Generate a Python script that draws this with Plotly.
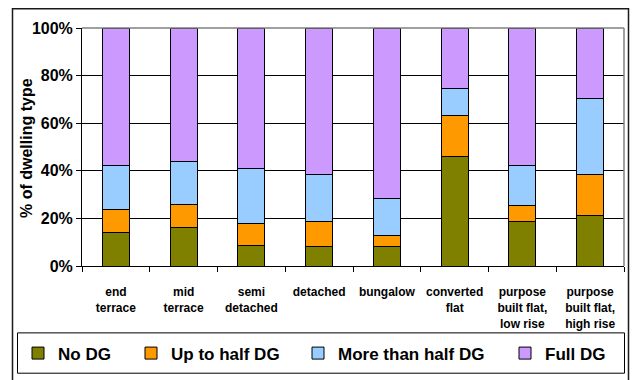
import plotly.graph_objects as go

# Dwelling types (x categories)
categories = [
    "end<br>terrace",
    "mid<br>terrace",
    "semi<br>detached",
    "detached",
    "bungalow",
    "converted<br>flat",
    "purpose<br>built flat,<br>low rise",
    "purpose<br>built flat,<br>high rise",
]

# Share of each dwelling type by extent of double glazing (%)
no_dg = [14.2, 16.1, 8.6, 8.4, 8.4, 45.9, 18.7, 21.2]
up_to_half_dg = [9.7, 9.9, 9.1, 10.4, 4.5, 17.5, 6.8, 17.2]
more_than_half_dg = [18.5, 17.8, 23.1, 19.5, 15.3, 11.2, 16.9, 32.1]
full_dg = [57.6, 56.2, 59.2, 61.7, 71.8, 25.4, 57.6, 29.5]

series_names = ["No DG", "Up to half DG", "More than half DG", "Full DG"]
series_values = [no_dg, up_to_half_dg, more_than_half_dg, full_dg]
series_colors = ["#808000", "#FF9900", "#99CCFF", "#CC99FF"]

y_tick_values = [0, 20, 40, 60, 80, 100]
y_tick_labels = ["0%", "20%", "40%", "60%", "80%", "100%"]

FONT = "Liberation Sans, Arial, sans-serif"

W, H = 632, 380
L, R, T, B = 82, 8, 28, 110
PW, PH = W - L - R, H - T - B


def px_x(px):
    return (px - L) / PW


def px_y(py):
    return (H - B - py) / PH


legend_ids = ["legend", "legend2", "legend3", "legend4"]
legend_text_x = [58, 171, 338, 545]

fig = go.Figure()
for name, vals, color, lid in zip(series_names, series_values, series_colors, legend_ids):
    fig.add_trace(
        go.Bar(
            x=categories,
            y=vals,
            name=name,
            marker=dict(color=color, line=dict(color="#000000", width=1)),
            width=0.4,
            legend=lid,
        )
    )

legend_layouts = {}
for lid, tx in zip(legend_ids, legend_text_x):
    legend_layouts[lid] = dict(
        x=px_x(tx - 40),
        xanchor="left",
        y=px_y(359),
        yanchor="middle",
        orientation="h",
        bgcolor="rgba(0,0,0,0)",
        borderwidth=0,
        font=dict(family=FONT, size=17, color="#000000", weight="bold"),
    )

fig.update_layout(
    width=W,
    height=H,
    margin=dict(l=L, r=R, t=T, b=B),
    barmode="stack",
    paper_bgcolor="#FFFFFF",
    plot_bgcolor="#FFFFFF",
    font=dict(family=FONT, color="#000000"),
    showlegend=True,
    **legend_layouts,
)

fig.update_xaxes(
    type="category",
    showline=True,
    linecolor="#000000",
    linewidth=1,
    ticks="outside",
    tickson="boundaries",
    ticklen=5,
    tickcolor="#000000",
    showgrid=False,
    ticklabelstandoff=15,
    tickfont=dict(family=FONT, size=12, color="#000000", weight="bold"),
)

fig.update_yaxes(
    range=[0, 100],
    tickvals=y_tick_values,
    ticktext=y_tick_labels,
    showline=True,
    linecolor="#000000",
    linewidth=1,
    ticks="outside",
    ticklen=5,
    tickcolor="#000000",
    showgrid=True,
    gridcolor="#000000",
    gridwidth=1,
    zeroline=False,
    tickfont=dict(family=FONT, size=16, color="#000000", weight="bold"),
)

# Y axis title
fig.add_annotation(
    text="% of dwelling type",
    xref="paper", yref="paper",
    x=px_x(27), y=px_y(150),
    xanchor="center", yanchor="middle",
    textangle=-90,
    showarrow=False,
    font=dict(family=FONT, size=16, color="#000000", weight="bold"),
)

# Plot-area border (top and right edges in grey)
fig.add_shape(type="line", xref="paper", yref="paper", x0=0, x1=1, y0=1, y1=1,
              line=dict(color="#808080", width=1.5), layer="above")
fig.add_shape(type="line", xref="paper", yref="paper", x0=1, x1=1, y0=0, y1=1,
              line=dict(color="#808080", width=1.5), layer="above")

# Legend box
fig.add_shape(type="rect", xref="paper", yref="paper",
              x0=px_x(17.5), x1=px_x(624.5), y0=px_y(338), y1=px_y(379),
              line=dict(color="#000000", width=1), fillcolor="rgba(0,0,0,0)")

# Chart-area frame
fig.add_shape(type="rect", xref="paper", yref="paper",
              x0=px_x(12.5), x1=px_x(628.5), y0=px_y(8.5), y1=px_y(395),
              line=dict(color="#1a1a1a", width=1.5), fillcolor="rgba(0,0,0,0)")

fig.write_html("out.html")
